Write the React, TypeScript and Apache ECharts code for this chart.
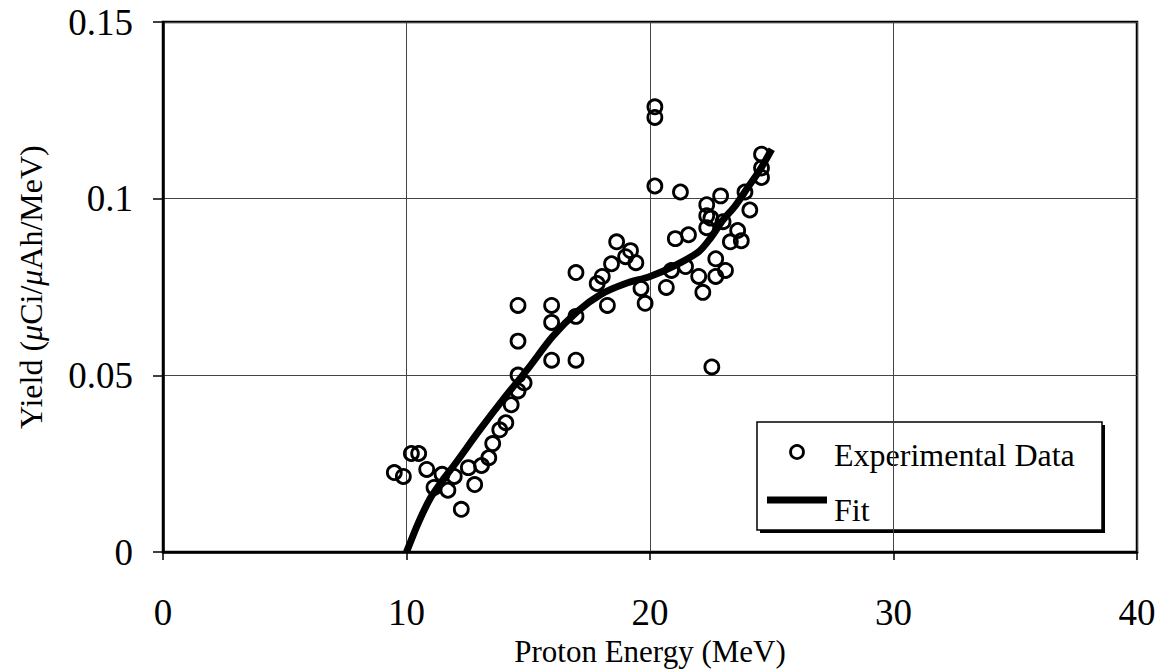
import React, { useEffect, useRef } from "react";
import * as echarts from "echarts";

const xTicks = [0, 10, 20, 30, 40];
const yTicks = [0, 0.05, 0.1, 0.15];

const expEnergy = [
  9.5, 9.87, 10.2, 10.5, 10.83, 11.13, 11.46, 11.7, 11.96, 12.25,
  12.54, 12.8, 13.08, 13.38, 13.54, 13.83, 14.08, 14.3, 14.58, 14.83,
  14.58, 14.58, 14.58, 15.96, 15.96, 15.96, 16.96, 16.96, 16.96, 17.83,
  18.04, 18.25, 18.42, 18.63, 19.0, 19.2, 19.42, 19.63, 19.8, 20.2,
  20.2, 20.2, 20.67, 20.88, 21.04, 21.25, 21.46, 21.58, 22.0, 22.17,
  22.33, 22.33, 22.33, 22.5, 22.54, 22.7, 22.7, 22.9, 23.0, 23.1,
  23.3, 23.6, 23.75, 23.9, 24.1, 24.58, 24.58, 24.58,
];
const expYield = [
  0.0225, 0.0214, 0.0279, 0.0279, 0.0234, 0.0183, 0.022, 0.0175, 0.0214, 0.0121,
  0.0239, 0.0191, 0.0245, 0.0267, 0.0307, 0.0346, 0.0366, 0.0417, 0.0456, 0.0479,
  0.0501, 0.0597, 0.0698, 0.0698, 0.065, 0.0543, 0.0543, 0.0667, 0.0791, 0.076,
  0.078, 0.0698, 0.0816, 0.0878, 0.0836, 0.0853, 0.0819, 0.0746, 0.0704, 0.126,
  0.123, 0.1036, 0.0749, 0.0797, 0.0887, 0.1019, 0.0808, 0.0898, 0.078, 0.0735,
  0.0983, 0.0952, 0.0918, 0.0945, 0.0524, 0.083, 0.078, 0.1008, 0.0935, 0.0797,
  0.0878, 0.091, 0.0881, 0.1019, 0.0968, 0.1126, 0.1087, 0.106,
];

const fitEnergy = [10, 10.5, 11, 11.5, 12, 13, 14, 15, 16, 17, 18, 19, 20, 21, 22, 22.5, 23, 23.5, 24, 24.5, 25];
const fitYield = [0, 0.0085, 0.0155, 0.0205, 0.025, 0.0345, 0.0435, 0.052, 0.061, 0.068, 0.073, 0.076, 0.078, 0.081, 0.085, 0.089, 0.094, 0.098, 0.103, 0.108, 0.114];

const legendLabels = ["Experimental Data", "Fit"];

const FONT = "'Liberation Serif', 'Times New Roman', serif";

export default function App() {
  const ref = useRef<HTMLDivElement>(null);
  useEffect(() => {
    if (!ref.current) return;
    const chart = echarts.init(ref.current, undefined, { renderer: "svg" });
    const scatterData = expEnergy.map((x, i) => [x, expYield[i]]);
    const fitData = fitEnergy.map((x, i) => [x, fitYield[i]]);

    const bx = 757, by = 422, bw = 345, bh = 108;
    chart.setOption({
      animation: false,
      backgroundColor: "#ffffff",
      textStyle: { fontFamily: FONT, color: "#000" },
      grid: {
        left: 163,
        right: 25,
        top: 22,
        bottom: 117,
        show: true,
        borderColor: "#000",
        borderWidth: 2.5,
      },
      xAxis: {
        type: "value",
        min: xTicks[0],
        max: xTicks[xTicks.length - 1],
        interval: 10,
        name: "Proton Energy (MeV)",
        nameLocation: "middle",
        nameGap: 81,
        nameTextStyle: { fontFamily: FONT, fontSize: 31, color: "#000" },
        axisLine: { show: true, lineStyle: { color: "#000", width: 2.5 } },
        axisTick: { show: true, length: 8, lineStyle: { color: "#000", width: 1.5 } },
        axisLabel: { fontFamily: FONT, fontSize: 37, color: "#000", margin: 42 },
        splitLine: { show: true, lineStyle: { color: "#444", width: 1 } },
      },
      yAxis: {
        type: "value",
        min: yTicks[0],
        max: yTicks[yTicks.length - 1],
        interval: 0.05,
        name: "Yield ({i|\u03bc}Ci/{i|\u03bc}Ah/MeV)",
        nameLocation: "middle",
        nameGap: 116,
        nameTextStyle: {
          fontFamily: FONT,
          fontSize: 32,
          color: "#000",
          rich: { i: { fontFamily: FONT, fontSize: 32, fontStyle: "italic", color: "#000" } },
        },
        axisLine: { show: true, lineStyle: { color: "#000", width: 2.5 } },
        axisTick: { show: true, length: 10, lineStyle: { color: "#000", width: 1.5 } },
        axisLabel: {
          fontFamily: FONT,
          fontSize: 37,
          color: "#000",
          margin: 30,
          formatter: (v: number) => String(Math.round(v * 100) / 100),
        },
        splitLine: { show: true, lineStyle: { color: "#444", width: 1 } },
      },
      graphic: [
        {
          type: "group",
          z: 100,
          children: [
            { type: "rect", shape: { x: bx + 3, y: by + 3, width: bw, height: bh }, style: { fill: "#000" } },
            { type: "rect", shape: { x: bx, y: by, width: bw, height: bh }, style: { fill: "#fff", stroke: "#000", lineWidth: 1.5 } },
            { type: "circle", shape: { cx: 797, cy: 452, r: 6.5 }, style: { fill: "#fff", stroke: "#000", lineWidth: 2.8 } },
            { type: "line", shape: { x1: 767, y1: 500, x2: 827, y2: 500 }, style: { stroke: "#000", lineWidth: 7 } },
            { type: "text", x: 834, y: 455, style: { text: legendLabels[0], font: `32px ${FONT}`, fill: "#000", verticalAlign: "middle", align: "left" } },
            { type: "text", x: 834, y: 510, style: { text: legendLabels[1], font: `32px ${FONT}`, fill: "#000", verticalAlign: "middle", align: "left" } },
          ],
        },
      ],
      series: [
        {
          name: "Experimental Data",
          type: "scatter",
          data: scatterData,
          symbol: "circle",
          symbolSize: 14,
          itemStyle: { color: "rgba(255,255,255,0)", borderColor: "#000", borderWidth: 2.8, opacity: 1 },
          z: 3,
        },
        {
          name: "Fit",
          type: "line",
          data: fitData,
          smooth: 0.3,
          symbol: "none",
          showSymbol: false,
          lineStyle: { color: "#000", width: 7 },
          itemStyle: { color: "#000" },
          z: 4,
        },
      ],
    });
    return () => chart.dispose();
  }, []);
  return (
    <div
      ref={ref}
      style={{ position: "fixed", left: 0, top: 0, width: 1162, height: 672 }}
    />
  );
}
